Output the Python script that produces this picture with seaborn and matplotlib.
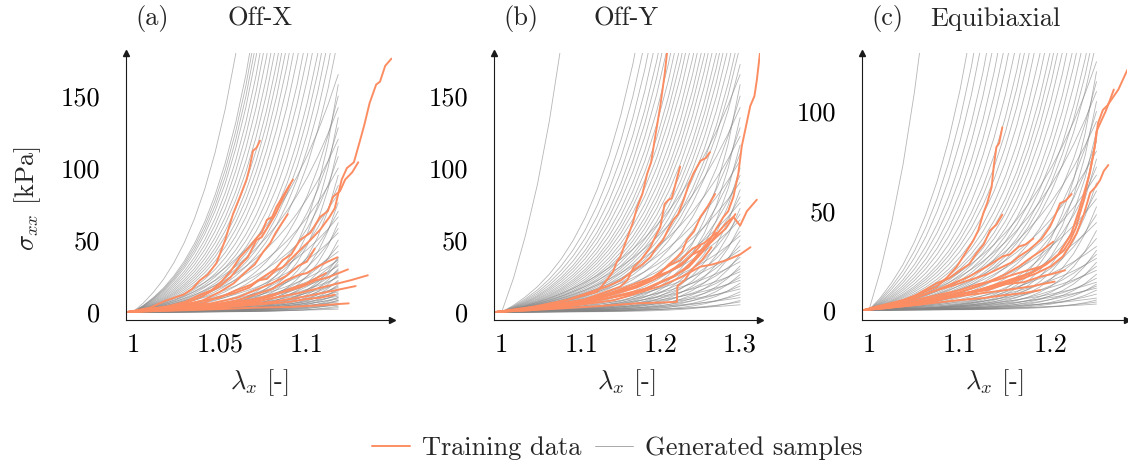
import numpy as np
import pandas as pd
import matplotlib
matplotlib.use("Agg")
import matplotlib.pyplot as plt
import seaborn as sns
from matplotlib.lines import Line2D

sns.set_theme(style="white")
plt.rcParams["font.family"] = ["cmr10", "DejaVu Serif"]
plt.rcParams["mathtext.fontset"] = "cm"
plt.rcParams["axes.unicode_minus"] = False
plt.rcParams["axes.formatter.use_mathtext"] = True

# ---------------- data ----------------
titles = ["Off-X", "Off-Y", "Equibiaxial"]
letters = ["(a)", "(b)", "(c)"]
xticks = [[1.0, 1.05, 1.1], [1.0, 1.1, 1.2, 1.3], [1.0, 1.1, 1.2]]
xtick_labels = [["1", "1.05", "1.1"], ["1", "1.1", "1.2", "1.3"], ["1", "1.1", "1.2"]]
yticks = [[0, 50, 100, 150], [0, 50, 100, 150], [0, 50, 100]]
ytick_labels = [["0", "50", "100", "150"], ["0", "50", "100", "150"], ["0", "50", "100"]]

# normalised shapes of generated samples (fraction of end stress along the stretch range)
profile_mild = [0.0, 0.0119, 0.0254, 0.0407, 0.0580, 0.0777, 0.0999, 0.1251, 0.1537,
                0.1861, 0.2228, 0.2643, 0.3114, 0.3648, 0.4253, 0.4938, 0.5715, 0.6595,
                0.7592, 0.8722, 1.0]
profile_mid = [0.0, 0.0041, 0.0092, 0.0153, 0.0229, 0.0321, 0.0433, 0.0570, 0.0738,
               0.0942, 0.1192, 0.1497, 0.1870, 0.2325, 0.2882, 0.3561, 0.4391,
               0.5404, 0.6642, 0.8153, 1.0]
profile_steep = [0.0, 0.0009, 0.0020, 0.0036, 0.0058, 0.0087, 0.0125, 0.0178, 0.0249,
                 0.0345, 0.0474, 0.0649, 0.0885, 0.1203, 0.1632, 0.2212, 0.2995, 0.4051,
                 0.5477, 0.7402, 1.0]
sample_stretch_end = [1.118, 1.30, 1.25]

# generated samples: stress reached at the end of the stretch range [kPa]
gen_end_a = [2, 3, 4, 5, 5, 6, 7, 8, 8, 9, 10, 10, 11, 12, 13, 14, 15, 16, 17, 18, 19, 20,
             21, 22, 24, 25, 26, 28, 29, 30, 32, 33, 35, 36, 37, 38,
             42, 46, 50, 55, 58, 62, 66, 70, 76, 82, 88, 95, 100, 108, 115, 120,
             128, 135, 142, 150, 158, 165,
             190, 210, 230, 250, 270, 300, 330, 360, 400, 440, 480, 520, 560, 600,
             650, 700, 760, 820, 880, 950, 1000, 1050, 1100, 1500]
gen_end_b = [5, 7, 8, 10, 12, 14, 16, 18, 20, 22, 24, 26, 28, 30, 32, 35, 38, 40, 43, 46,
             50, 53, 56, 60,
             64, 68, 72, 76, 80, 85, 90, 95, 100, 105, 110, 116, 122, 128, 135, 142, 150,
             158, 165, 172,
             185, 195, 210, 225, 240, 255, 270, 290, 310, 330, 350, 375, 400, 430, 460,
             490, 520, 560, 600, 650, 700, 750, 820, 900, 1000, 1150, 5800]
gen_end_c = [3, 4, 5, 6, 8, 10, 11, 12, 13, 14, 16, 18, 20, 22, 24, 26, 28, 30, 32,
             36, 40, 44, 48, 52, 56, 60, 64, 68, 72, 76, 80, 85, 90, 95, 100, 105, 110,
             115, 120, 125,
             135, 145, 155, 170, 185, 200, 220, 240, 260, 280, 300, 330, 360, 400, 440,
             480, 520, 580, 650, 720, 800, 900, 1000, 1150, 1300, 1500, 4800]
gen_ends = [gen_end_a, gen_end_b, gen_end_c]

# training data curves (stretch, stress)
train_a = [
    ([0.997, 1.01, 1.02, 1.03, 1.04, 1.048, 1.058, 1.067, 1.072, 1.077, 1.082, 1.086, 1.091,
      1.096, 1.102, 1.1075, 1.113, 1.116, 1.12, 1.123, 1.127, 1.1305, 1.133, 1.136, 1.1398,
      1.142, 1.145, 1.1486],
     [0, 2, 3, 5, 6, 10, 13, 17, 22, 23, 29, 31, 37, 43, 50, 57, 66, 72, 92, 100, 104, 119,
      130, 145, 158, 160, 171, 176]),
    ([0.997, 1.02, 1.041, 1.05, 1.059, 1.068, 1.077, 1.082, 1.086, 1.091, 1.096, 1.102,
      1.1075, 1.112, 1.115, 1.119, 1.122, 1.126, 1.1295],
     [0, 3, 8, 10, 15, 19, 26, 30, 36, 40, 50, 55, 66, 70, 80, 84, 92, 97, 104]),
    ([0.997, 1.01, 1.019, 1.029, 1.034, 1.0385, 1.043, 1.048, 1.053, 1.0575, 1.0615, 1.0653,
      1.067, 1.069, 1.071, 1.073],
     [0, 3, 8, 12, 16, 22, 26, 34, 50, 68, 80, 92, 100, 112, 114, 119]),
    ([0.997, 1.02, 1.03, 1.0385, 1.045, 1.05, 1.056, 1.0615, 1.066, 1.0715, 1.074, 1.077,
      1.08, 1.0825, 1.086, 1.088, 1.092],
     [0, 4, 7, 12, 15, 20, 28, 38, 44, 52, 55, 64, 66, 73, 80, 84, 92]),
    ([0.997, 1.02, 1.03, 1.04, 1.05, 1.056, 1.062, 1.066, 1.071, 1.074, 1.078, 1.082,
      1.085, 1.09],
     [0, 3, 6, 11, 18, 24, 33, 38, 50, 52, 60, 68, 76, 88]),
    ([0.997, 1.03, 1.04, 1.05, 1.058, 1.065, 1.07, 1.075, 1.079, 1.082, 1.089],
     [0, 5, 8, 14, 20, 28, 33, 42, 48, 55, 68]),
    ([0.997, 1.03, 1.045, 1.06, 1.07, 1.08, 1.088, 1.096, 1.1, 1.107, 1.112, 1.1176],
     [0, 3, 5, 8, 12, 16, 22, 26, 27, 32, 35, 38]),
    ([0.997, 1.03, 1.045, 1.06, 1.07, 1.08, 1.088, 1.095, 1.1, 1.1045],
     [0, 4, 6, 10, 15, 20, 25, 32, 35, 44]),
    ([0.997, 1.04, 1.055, 1.07, 1.08, 1.09, 1.098, 1.105, 1.112, 1.1236],
     [0, 4, 6, 9, 12, 15, 18, 22, 24, 29.6]),
    ([0.997, 1.04, 1.055, 1.07, 1.082, 1.095, 1.105, 1.115, 1.125, 1.135],
     [0, 3, 5, 7, 10, 13, 16, 19, 22, 25.5]),
    ([0.997, 1.04, 1.06, 1.08, 1.09, 1.1, 1.112, 1.128], [0, 3, 5, 7, 9, 11, 14, 18]),
    ([0.997, 1.05, 1.07, 1.09, 1.105, 1.124], [0, 2, 3, 3.5, 4.5, 6]),
    ([0.997, 1.04, 1.055, 1.07, 1.08, 1.09, 1.1, 1.111], [0, 3, 5, 8, 11, 16, 20, 27]),
    ([0.997, 1.04, 1.06, 1.08, 1.09, 1.1, 1.108, 1.116], [0, 2, 4, 6, 7, 9, 10, 12]),
]
train_b = [
    ([0.993, 1.04, 1.082, 1.12, 1.132, 1.14, 1.145, 1.149, 1.157, 1.165, 1.17, 1.177, 1.183,
      1.188, 1.192, 1.1995, 1.205, 1.208],
     [0, 3.7, 8.3, 14, 22, 28, 35, 38, 50, 62, 72, 82, 96, 104, 118, 143, 165, 180]),
    ([0.993, 1.04, 1.1025, 1.166, 1.19, 1.216, 1.23, 1.241, 1.25, 1.262, 1.27, 1.279, 1.285,
      1.2915, 1.2977, 1.302, 1.307, 1.3127, 1.318, 1.321, 1.325],
     [0, 1.4, 6, 13, 18, 24.5, 30, 36, 42, 50, 58, 66, 70, 80, 96, 115, 128, 143, 150, 161,
      180]),
    ([0.993, 1.04, 1.082, 1.132, 1.15, 1.166, 1.177, 1.187, 1.195, 1.203, 1.21, 1.216, 1.222,
      1.229, 1.235, 1.241, 1.246, 1.25, 1.257, 1.262],
     [0, 3, 8.3, 17.6, 22, 29, 33, 38, 45, 50, 58, 64, 68, 78, 88, 96, 101, 105, 107, 111]),
    ([0.993, 1.05, 1.1025, 1.149, 1.158, 1.166, 1.175, 1.187, 1.193, 1.1995, 1.205, 1.21,
      1.214, 1.2245],
     [0, 4, 8.3, 17.6, 22, 31, 36, 45, 52, 59, 75, 78, 79, 101]),
    ([0.993, 1.05, 1.1025, 1.166, 1.185, 1.1995, 1.21, 1.2205, 1.227, 1.233, 1.242, 1.25,
      1.26, 1.2685],
     [0, 3, 6.9, 17.6, 22, 27, 33, 38, 42, 50, 56, 66, 74, 82]),
    ([0.993, 1.06, 1.12, 1.18, 1.22, 1.235, 1.25, 1.262, 1.275, 1.283, 1.2915, 1.30, 1.3085,
      1.321],
     [0, 3, 8, 16, 26, 31, 40, 48, 57, 62, 66, 60, 70, 78]),
    ([0.993, 1.07, 1.14, 1.2, 1.225, 1.25, 1.265, 1.283, 1.3, 1.313],
     [0, 3, 8, 18, 24, 31.5, 33, 36, 40, 45]),
    ([0.993, 1.06, 1.12, 1.17, 1.19, 1.21, 1.225, 1.24, 1.255, 1.27, 1.282, 1.294],
     [0, 3, 9, 17, 22, 28, 32, 40, 44, 52, 58, 68]),
    ([0.993, 1.06, 1.12, 1.17, 1.19, 1.21, 1.225, 1.24, 1.255, 1.27],
     [0, 4, 10, 20, 24, 32, 36, 44, 48, 55]),
    ([0.993, 1.06, 1.12, 1.17, 1.2205, 1.221, 1.23, 1.24, 1.252, 1.264],
     [0, 2, 4, 6, 7, 18, 22, 30, 36, 45]),
    ([0.993, 1.05, 1.1, 1.15, 1.17, 1.19, 1.21, 1.23, 1.24, 1.25],
     [0, 3, 8, 15, 18, 24, 28, 35, 40, 46]),
]
train_c = [
    ([0.995, 1.0015, 1.02, 1.0377, 1.055, 1.0744, 1.085, 1.0964, 1.105, 1.1146, 1.12,
      1.1256, 1.13, 1.1348, 1.137, 1.140, 1.143, 1.1465],
     [0, 1, 3, 5, 8, 11.7, 16, 21.8, 28, 35, 40, 48.7, 54, 62, 72, 82, 84, 92]),
    ([0.995, 1.02, 1.05, 1.0744, 1.088, 1.1, 1.11, 1.118, 1.126, 1.133, 1.14, 1.1465],
     [0, 2, 7, 13.5, 16, 20, 23, 28.5, 33, 40, 43, 48]),
    ([0.995, 1.02, 1.06, 1.092, 1.12, 1.147, 1.165, 1.184, 1.195, 1.206, 1.214, 1.221, 1.227,
      1.232, 1.236, 1.239, 1.243, 1.246, 1.249, 1.2516, 1.257, 1.262, 1.268, 1.274, 1.279,
      1.284],
     [0, 1, 3, 6.7, 10, 13.5, 16, 20, 23, 27, 30, 35, 41, 49, 55, 62, 70, 77, 85, 94, 100.7,
      103, 107, 111, 116, 121]),
    ([0.995, 1.02, 1.06, 1.09, 1.12, 1.14, 1.16, 1.18, 1.19, 1.2, 1.208, 1.215, 1.222, 1.227,
      1.232, 1.237, 1.242, 1.245, 1.248, 1.25, 1.255, 1.26, 1.265, 1.269],
     [0, 1, 4, 7, 10, 13, 16, 19, 22, 25, 28, 33, 38, 45, 52, 60, 68, 75, 82, 90, 95, 100,
      106, 111]),
    ([0.995, 1.03, 1.07, 1.1, 1.13, 1.15, 1.17, 1.184, 1.2, 1.213, 1.22, 1.228, 1.236, 1.243,
      1.249, 1.254, 1.258, 1.263],
     [0, 2, 5, 8, 10, 13, 16, 18.5, 22, 27, 32, 38.5, 48, 59, 62, 65.5, 70, 73]),
    ([0.995, 1.02, 1.05, 1.0744, 1.09, 1.11, 1.13, 1.147, 1.157, 1.165, 1.175, 1.184, 1.19,
      1.199, 1.204, 1.21, 1.216, 1.2227],
     [0, 2, 6, 10, 12, 15, 18, 21.8, 24, 27, 30, 33.5, 36, 42, 47, 53.7, 55, 58.4]),
    ([0.995, 1.02, 1.05, 1.0744, 1.09, 1.11, 1.13, 1.147, 1.155, 1.165, 1.172, 1.1806],
     [0, 2, 6, 10, 13, 16.8, 22, 27, 28, 32, 33, 36]),
    ([0.995, 1.04, 1.07, 1.1, 1.125, 1.15, 1.17, 1.19, 1.2, 1.2154],
     [0, 3, 5, 8, 10, 13, 14, 17, 18, 20]),
    ([0.995, 1.04, 1.07, 1.1, 1.125, 1.15, 1.165, 1.18, 1.19, 1.204],
     [0, 3, 5, 7, 8.5, 10, 11, 12, 13, 14.3]),
    ([0.995, 1.04, 1.07, 1.1, 1.125, 1.15, 1.17, 1.188], [0, 2, 3.5, 5, 6, 7.5, 8.5, 10]),
    ([0.995, 1.04, 1.07, 1.1, 1.12, 1.15, 1.165, 1.18, 1.19, 1.2025],
     [0, 3, 6, 9, 12, 18, 22, 27, 30, 34.4]),
    ([0.995, 1.03, 1.06, 1.08, 1.1, 1.12, 1.14, 1.16, 1.175, 1.19],
     [0, 3, 6, 8, 10, 13, 15, 18, 20, 22]),
]
trains = [train_a, train_b, train_c]

# ---------------- layout ----------------
W, H = 1128, 463
xlims = [(0.996, 1.1489), (0.9903, 1.325), (0.992, 1.2835)]
ylims = [(-5.56, 179.9), (-5.56, 179.9), (-5.04, 129.4)]
ax_px = [(126, 392), (494, 760), (861.7, 1127)]
ax_top, ax_bot = 53, 320
FS = 19

GRAY = "#858585"
ORANGE = "#fc8d62"
AXC = "#1a1a1a"

fig = plt.figure(figsize=(W / 100, H / 100), dpi=100)

profiles_cycle = [profile_mild, profile_mid, profile_steep]

for i in range(3):
    l, r = ax_px[i]
    ax = fig.add_axes([l / W, (H - ax_bot) / H, (r - l) / W, (ax_bot - ax_top) / H])
    ax.set_facecolor("none")
    ytop = ylims[i][1]

    # generated samples
    rows = []
    xe = sample_stretch_end[i]
    for k, e in enumerate(gen_ends[i]):
        prof = profiles_cycle[k % 3] if e <= ytop else profile_mid
        n = len(prof)
        for j, p in enumerate(prof):
            rows.append((k, 1.0 + (xe - 1.0) * j / (n - 1), e * p))
    dg = pd.DataFrame(rows, columns=["id", "x", "y"])
    sns.lineplot(data=dg, x="x", y="y", units="id", estimator=None, sort=False,
                 color=GRAY, lw=0.6, alpha=0.6, ax=ax, legend=False)

    # training data
    rows = []
    for k, (xs, ys) in enumerate(trains[i]):
        for xv, yv in zip(xs, ys):
            rows.append((k, xv, yv))
    dt = pd.DataFrame(rows, columns=["id", "x", "y"])
    sns.lineplot(data=dt, x="x", y="y", units="id", estimator=None, sort=False,
                 color=ORANGE, lw=1.4, ax=ax, legend=False)

    ax.set_xlim(*xlims[i])
    ax.set_ylim(*ylims[i])
    ax.set_xlabel("")
    ax.set_ylabel("")
    for s in ["top", "right"]:
        ax.spines[s].set_visible(False)
    for s in ["left", "bottom"]:
        ax.spines[s].set_color(AXC)
        ax.spines[s].set_linewidth(0.8)
    ax.plot(1, 0, ">", color=AXC, ms=4.5, transform=ax.transAxes, clip_on=False)
    ax.plot(0, 1, "^", color=AXC, ms=4.5, transform=ax.transAxes, clip_on=False)

    ax.set_xticks(xticks[i])
    ax.set_xticklabels(xtick_labels[i])
    ax.set_yticks(yticks[i])
    ax.set_yticklabels(ytick_labels[i])
    ax.tick_params(axis="both", direction="inout", length=7, width=0.6, color="#555555",
                   labelsize=FS, labelcolor="black")
    ax.tick_params(axis="x", pad=6)
    ax.tick_params(axis="y", pad=15)
    ax.grid(False)

# titles
title_pos = [(152, 260), (521, 626), (887, 995)]
for i in range(3):
    fig.text(title_pos[i][0] / W, 1 - 19 / H, letters[i], ha="center", va="center", fontsize=FS)
    fig.text(title_pos[i][1] / W, 1 - 19 / H, titles[i], ha="center", va="center", fontsize=FS)

# axis labels
xlab_pos = [259, 626, 994]
for xp in xlab_pos:
    fig.text(xp / W, 1 - 383 / H, r"$\lambda_x$ [-]", ha="center", va="center", fontsize=FS)
fig.text(28 / W, 1 - 198 / H, r"$\sigma_{xx}$ [kPa]", ha="center", va="center",
         rotation=90, fontsize=FS)

# legend
handles = [Line2D([], [], color=ORANGE, lw=1.4), Line2D([], [], color="#9a9a9a", lw=0.6)]
fig.legend(handles, ["Training data", "Generated samples"], loc="center",
           bbox_to_anchor=(617 / W, 1 - 448 / H), ncol=2, frameon=False, fontsize=FS,
           handlelength=1.45, handletextpad=0.45, columnspacing=0.5)

fig.savefig("out.png", dpi=100)
